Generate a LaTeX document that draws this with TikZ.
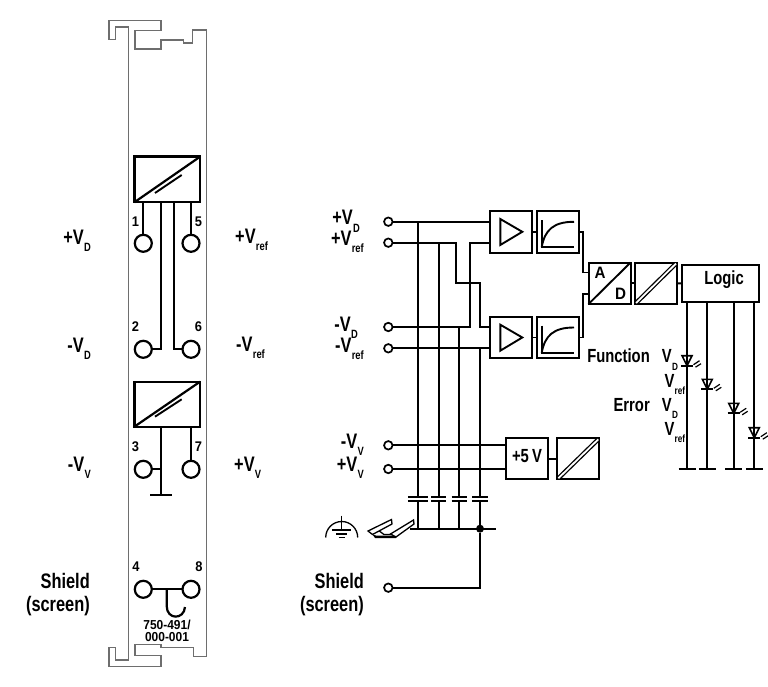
\documentclass[tikz,border=0pt]{standalone}
\usepackage{fontspec}
\setsansfont{Liberation Sans}[FakeStretch=0.78]
\newfontfamily\artfont{Liberation Sans}[FakeStretch=0.92]
\usetikzlibrary{positioning, calc}
\definecolor{railgray}{HTML}{6E6E6E}
\newcommand{\sigV}[2][12]{V\raisebox{-7.5pt}{\fontsize{#1}{#1}\selectfont\kern0.3pt #2}}

\begin{document}
\begin{tikzpicture}[
    x=1pt, y=-1pt,
    wire/.style={line width=1.9pt},
    heavy/.style={line width=2.2pt},
    blockbox/.style={rectangle, draw, line width=2pt, minimum width=42pt, minimum height=41.5pt, inner sep=0pt, outer sep=0pt},
    convbox/.style={rectangle, draw, line width=2.4pt, minimum width=65.7pt, inner sep=0pt, outer sep=0pt},
    pin/.style={circle, draw, line width=2.2pt, minimum size=17pt, inner sep=0pt, outer sep=0pt},
    term/.style={circle, draw, line width=1.7pt, fill=white, minimum size=8.5pt, inner sep=0pt, outer sep=0pt},
    sigtext/.style={font=\fontsize{21}{24}\selectfont\sffamily\bfseries, inner sep=0pt, anchor=base east},
    pinno/.style={font=\fontsize{14}{14}\selectfont\artfont\bfseries, inner sep=0pt},
    ledtext/.style={font=\fontsize{19}{22}\selectfont\sffamily\bfseries, inner sep=0pt, anchor=base west},
    blocktext/.style={font=\fontsize{19}{19}\selectfont\sffamily\bfseries, inner sep=0pt},
]
\useasboundingbox (0,0) rectangle (768,687);

% Rail outline
\draw[railgray, line width=1.2pt] (128.5,27) -- (115.7,27) -- (115.7,39.5) -- (109,39.5) -- (109,20.5) -- (161,20.5) -- (161,30.5) -- (135,30.5) -- (135,49) -- (161,49) -- (161,40) -- (183.3,40) -- (183.3,43) -- (192.7,43) -- (192.7,30) -- (206.3,30) -- (206.3,656.7) -- (193.3,656.7) -- (193.3,647.3) -- (161,647.3) -- (161,644.3) -- (135,644.3) -- (135,655.7) -- (161,655.7) -- (161,666.3) -- (109,666.3) -- (109,647.3) -- (115.7,647.3) -- (115.7,660) -- (128.5,660) -- cycle;

% Converters of the module
\node[convbox, minimum height=45.6pt] (conva) at (167.2,179.5) {};
\node[convbox, minimum height=45pt] (convb) at (167.2,404.2) {};
\draw[heavy] (conva.south west) -- (conva.north east);
\draw[heavy] (convb.south west) -- (convb.north east);
\draw[wire] (155,193) -- (181.7,175);
\draw[wire] (155,416.7) -- (181.7,399.3);

% Pins
\node[pin] (pa) at (143.3,243.3) {};
\node[pin] (pe) at (191,243.3) {};
\node[pin] (pb) at (143.3,349.3) {};
\node[pin] (pf) at (191,349.3) {};
\node[pin] (pc) at (143.3,469.3) {};
\node[pin] (pg) at (191,469.3) {};
\node[pin] (pd) at (143.3,589.3) {};
\node[pin] (ph) at (191,589.3) {};
\coordinate (xmida) at (160.7,300);
\coordinate (xmidb) at (173.7,300);
\coordinate (gnd) at (160.7,495);

\draw[heavy] (pa) -- (pa |- conva.south);
\draw[heavy] (pe) -- (pe |- conva.south);
\draw[heavy] (xmida |- conva.south) -- (xmida |- pb) -- (pb);
\draw[heavy] (xmidb |- conva.south) -- (xmidb |- pf) -- (pf);
\draw[heavy] (pg) -- (pg |- convb.south);
\draw[heavy] (xmida |- convb.south) -- (gnd);
\draw[heavy] (pc) -- (pc -| gnd);
\draw[heavy] ([xshift=-10.7pt]gnd) -- ([xshift=11pt]gnd);
\draw[heavy] (pd) -- (ph);
\draw[heavy] (166.7,589.3) -- (166.7,606) .. controls (166.7,620) and (184,620) .. (185,607);

% Pin numbers
\node[pinno] (na) at (135.5,222) {1};
\node[pinno] (ne) at (198.5,222) {5};
\node[pinno] (nb) at (135.5,327) {2};
\node[pinno] (nf) at (198.5,327) {6};
\node[pinno] (nc) at (135.5,447) {3};
\node[pinno] (ng) at (198.5,447) {7};
\node[pinno] (nd) at (136,567) {4};
\node[pinno] (nh) at (199,567) {8};

\node[font=\fontsize{13}{11.7}\selectfont\artfont\bfseries, align=center, inner sep=0pt] (artno) at (167,630.5) {750-491/\\000-001};

% Signal names beside the module
\node[sigtext] (lvd) at (91,244) {+\sigV{D}};
\node[sigtext] (lnd) at (91,352) {-\sigV{D}};
\node[sigtext] (lnv) at (91,471) {-\sigV{V}};
\node[sigtext, anchor=base west] (lvr) at (235,243) {+\sigV{ref}};
\node[sigtext, anchor=base west] (lnr) at (236,351) {-\sigV{ref}};
\node[sigtext, anchor=base west] (lpv) at (234,471) {+\sigV{V}};
\node[sigtext] (lsa) at (90,588) {Shield};
\node[sigtext] (lsb) at (90,611) {(screen)};

% Signal names of the circuit
\node[sigtext] (rvd) at (360,225) {+\sigV{D}};
\node[sigtext] (rvr) at (364,245) {+\sigV{ref}};
\node[sigtext] (rnd) at (358,331) {-\sigV{D}};
\node[sigtext] (rnr) at (364,352) {-\sigV{ref}};
\node[sigtext] (rnv) at (364,448) {-\sigV{V}};
\node[sigtext] (rpv) at (364,471) {+\sigV{V}};
\node[sigtext] (rsa) at (364,588) {Shield};
\node[sigtext] (rsb) at (364,611) {(screen)};

% Terminals
\node[term] (tvd) at (388.3,221.7) {};
\node[term] (tvr) at (388.3,242.7) {};
\node[term] (tnd) at (388.3,327) {};
\node[term] (tnr) at (388.3,348.3) {};
\node[term] (tnv) at (388.3,445.3) {};
\node[term] (tpv) at (388.3,469) {};
\node[term] (tsh) at (388.3,587.7) {};

% Blocks
\node[blockbox] (ampa) at (511,231.8) {};
\node[blockbox] (ampb) at (511,337.5) {};
\node[blockbox] (filta) at (557.7,231.8) {};
\node[blockbox] (filtb) at (557.7,337.5) {};
\node[blockbox] (adc) at (609.5,283.3) {};
\node[blockbox] (iso) at (656,283.3) {};
\node[blockbox, minimum width=77.6pt, minimum height=36.4pt] (logic) at (720.5,283.5) {};
\node[blocktext] (logictext) at (724,279.5) {Logic};
\node[blockbox, minimum height=41pt] (five) at (526.7,458.8) {};
\node[blocktext] (fivetext) at (527,456) {+5\,V};
\node[blockbox, minimum height=41pt] (isob) at (578.3,458.8) {};

\draw[wire] (ampa) -- (filta);
\draw[wire] (ampb) -- (filtb);
\draw[wire] (adc) -- (iso);
\draw[wire] (iso) -- (logic);
\draw[wire] (five) -- (isob);

% Amplifier and filter symbols
\foreach \bname in {ampa, ampb} {
  \draw[wire] ([xshift=-10.7pt,yshift=12.8pt]\bname.center) -- ([xshift=-10.7pt,yshift=-13.2pt]\bname.center) -- ([xshift=11.3pt]\bname.center) -- cycle;
}
\foreach \bname in {filta, filtb} {
  \draw[wire] ([xshift=-16pt,yshift=11.8pt]\bname.center) -- ([xshift=-16pt,yshift=-15.5pt]\bname.center) -- ([xshift=16.3pt,yshift=-15.5pt]\bname.center);
  \draw[wire] ([xshift=-16pt,yshift=-15.5pt]\bname.center) .. controls ([xshift=-13pt,yshift=2pt]\bname.center) and ([xshift=-4pt,yshift=10pt]\bname.center) .. ([xshift=16.3pt,yshift=10pt]\bname.center);
}
\draw[wire] (adc.south west) -- (adc.north east);
\node[font=\fontsize{16.5}{16.5}\selectfont\artfont\bfseries, inner sep=0pt] (adca) at (600,272.7) {A};
\node[font=\fontsize{16.5}{16.5}\selectfont\artfont\bfseries, inner sep=0pt] (adcd) at (620.7,293.5) {D};
\draw[double, double distance=1.8pt, line width=1.3pt, shorten >=1.5pt, shorten <=1.5pt] (iso.south west) -- (iso.north east);
\draw[double, double distance=1.8pt, line width=1.3pt, shorten >=1.5pt, shorten <=1.5pt] (isob.south west) -- (isob.north east);

% Bus wires
\coordinate (xa) at (418,500);
\coordinate (xb) at (438.7,500);
\coordinate (xc) at (459.3,500);
\coordinate (xd) at (480,500);
\coordinate (jog) at (456,283.3);
\coordinate (jogb) at (469.7,283.3);
\coordinate (bus) at (410,528.7);
\coordinate (busend) at (495.7,528.7);

\draw[wire] (tvd) -- (ampa.west |- tvd);
\draw[wire] (tvr) -- (tvr -| jog) -- (jog) -- (jog -| xd) -- (xd |- tnd) -- (ampb.west |- tnd);
\draw[wire] (tnd) -- (tnd -| jogb) -- (jogb |- tvr) -- (ampa.west |- tvr);
\draw[wire] (tnr) -- (ampb.west |- tnr);
\draw[wire] (tnv) -- (five.west |- tnv);
\draw[wire] (tpv) -- (five.west |- tpv);

% Capacitors to the rail
\foreach \cname/\fromnode/\halfw in {xa/tvd/10.2, xb/tvr/7.7, xc/tnd/7.7, xd/tnr/7.7} {
  \draw[wire] (\cname |- \fromnode) -- ([yshift=3.3pt]\cname);
  \draw[wire] ([yshift=-0.7pt]\cname) -- (\cname |- bus);
  \draw[wire] ([xshift=-\halfw pt,yshift=3.3pt]\cname) -- ([xshift=\halfw pt,yshift=3.3pt]\cname);
  \draw[wire] ([xshift=-\halfw pt,yshift=-0.7pt]\cname) -- ([xshift=\halfw pt,yshift=-0.7pt]\cname);
}
\draw[wire] (bus) -- (busend);
\node[circle, fill=black, minimum size=8pt, inner sep=0pt] (busdot) at (xd |- bus) {};
\draw[wire] (tsh) -- (tsh -| busdot) -- (busdot);

% Filter outputs
\coordinate (xout) at (583.3,300);
\draw[wire] (filta.east) -- (filta.east -| xout) -- (xout |- 0,272.5) -- (adc.west |- 0,272.5);
\draw[wire] (filtb.east) -- (filtb.east -| xout) -- (xout |- 0,294) -- (adc.west |- 0,294);

% Earth sign
\draw[line width=1.3pt] (325.7,537.5) arc[start angle=180, end angle=360, radius=16];
\draw[line width=1.3pt] (341.7,515.7) -- (341.7,530);
\draw[line width=1.5pt] (332,530) -- (351,530);
\draw[line width=1.3pt] (336,534) -- (347,534);
\draw[line width=1.3pt] (338.5,537.5) -- (345,537.5);

% Mounting rail
\draw[line width=1.3pt, line join=round] (378,530) -- (384,534.5) -- (391,534.5);
\fill (372.5,534.5) -- (375,538) -- (396,538) -- (396,535.5) -- (376,535.5) -- cycle;
\draw[line width=1.3pt, fill=white] (368,531) -- (391.5,519.5) -- (392,524) -- (372.5,534.5) -- cycle;
\draw[line width=1.3pt, fill=white] (390.5,534) -- (413.5,520) -- (414,524) -- (396,537) -- cycle;

% LED lines
\coordinate (lda) at (687,469.3);
\coordinate (ldb) at (707.3,469.3);
\coordinate (ldc) at (733.7,469.3);
\coordinate (ldd) at (754.3,469.3);
\foreach \lname/\ledy in {lda/365.7, ldb/389.3, ldc/413.3, ldd/437.7} {
  \draw[wire] (\lname |- logic.south) -- (\lname);
  \draw[wire] ([xshift=-8.5pt]\lname) -- ([xshift=8.5pt]\lname);
  \coordinate (led) at (\lname |- 0,\ledy);
  \draw[wire] ([xshift=-6pt]led) -- ([xshift=6pt]led);
  \draw[line width=1.6pt] ([xshift=-5pt,yshift=10pt]led) -- ([xshift=5pt,yshift=10pt]led) -- (led) -- cycle;
  \draw[line width=1.2pt] ([xshift=6.5pt,yshift=1pt]led) -- ([xshift=12.5pt,yshift=5pt]led);
  \draw[line width=1.2pt] ([xshift=8.5pt,yshift=-1.5pt]led) -- ([xshift=14pt,yshift=2pt]led);
}

% Status texts
\node[ledtext, anchor=base east] (fn) at (650,362.5) {Function};
\node[ledtext, anchor=base east] (er) at (650,411) {Error};
\node[ledtext] (fa) at (661.7,362.5) {\sigV[10.5]{D}};
\node[ledtext] (fb) at (664.3,387) {\sigV[10.5]{ref}};
\node[ledtext] (fc) at (661.7,411) {\sigV[10.5]{D}};
\node[ledtext] (fd) at (664.3,435) {\sigV[10.5]{ref}};

\end{tikzpicture}
\end{document}
